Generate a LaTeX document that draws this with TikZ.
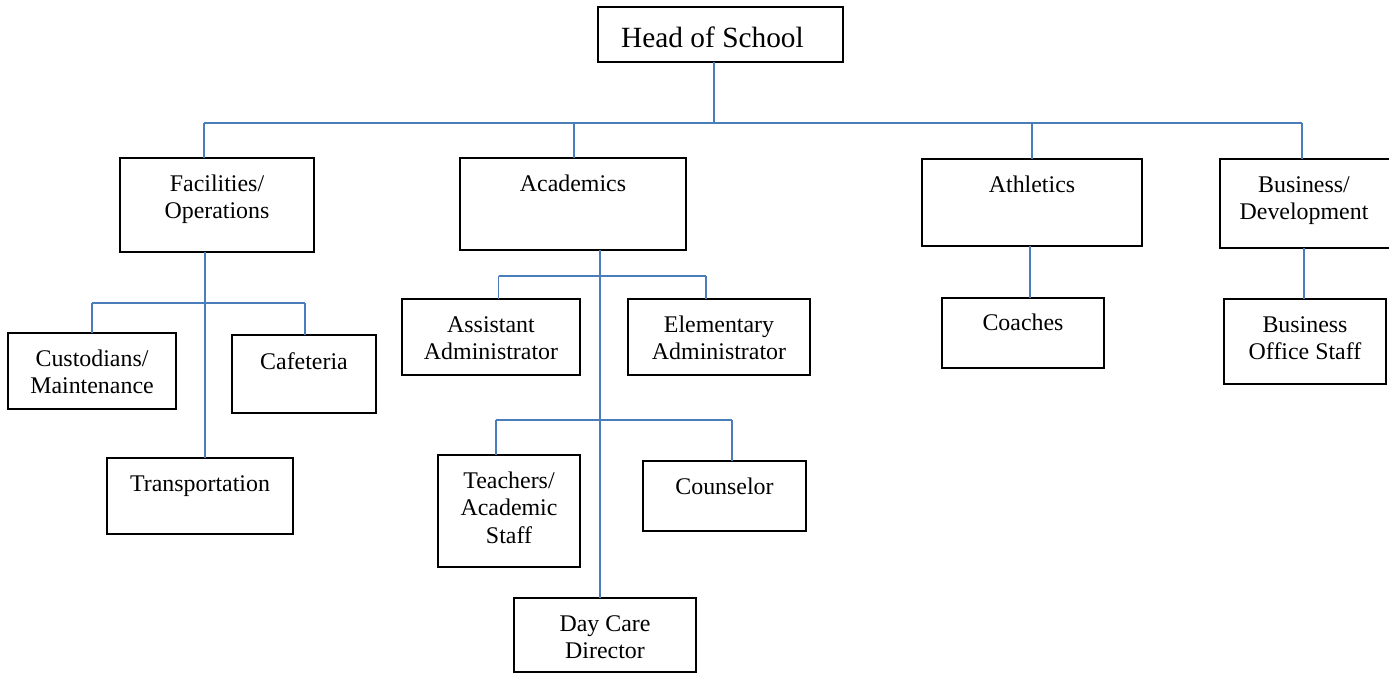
\documentclass[tikz,border=0pt]{standalone}
\usepackage{fontspec}
\setmainfont{Liberation Serif}
\usetikzlibrary{positioning}
\definecolor{linkblue}{RGB}{74,126,187}
\tikzset{
  box/.style   = {draw=black, line width=1.4pt, inner sep=0pt, outer sep=0pt, anchor=north west},
  lbl/.style   = {font=\fontsize{13.6}{15.4}\selectfont, align=center, inner sep=0pt},
  title/.style = {font=\fontsize{16.7}{19}\selectfont, inner sep=0pt},
  link/.style  = {draw=linkblue, line width=1.1pt},
}

\begin{document}
\begin{tikzpicture}[x=1cm,y=1cm]
  \useasboundingbox[fill=white] (0,0) rectangle (27.78,13.48);

  % head
  \node[box, minimum width=4.90cm, minimum height=1.10cm] (head) at (11.96,13.34) {};
  \node[title, below=0.38cm of head.north, xshift=-0.16cm] (headT) {Head of School};

  % departments
  \node[box, minimum width=3.88cm, minimum height=1.88cm] (fac) at (2.40,10.32) {};
  \node[lbl, below=0.33cm of fac.north] (facT) {Facilities/\\Operations};
  \node[box, minimum width=4.52cm, minimum height=1.84cm] (acad) at (9.20,10.32) {};
  \node[lbl, below=0.34cm of acad.north] (acadT) {Academics};
  \node[box, minimum width=4.40cm, minimum height=1.74cm] (ath) at (18.44,10.30) {};
  \node[lbl, below=0.34cm of ath.north] (athT) {Athletics};
  \node[box, minimum width=3.60cm, minimum height=1.78cm] (bus) at (24.40,10.30) {};
  \node[lbl, below=0.34cm of bus.north, xshift=-0.12cm] (busT) {Business/\\Development};

  % facilities staff
  \node[box, minimum width=3.36cm, minimum height=1.52cm] (cust) at (0.16,6.82) {};
  \node[lbl, below=0.34cm of cust.north] (custT) {Custodians/\\Maintenance};
  \node[box, minimum width=2.88cm, minimum height=1.56cm] (cafe) at (4.64,6.78) {};
  \node[lbl, below=0.34cm of cafe.north] (cafeT) {Cafeteria};
  \node[box, minimum width=3.72cm, minimum height=1.52cm] (trans) at (2.14,4.32) {};
  \node[lbl, below=0.34cm of trans.north] (transT) {Transportation};

  % academic staff
  \node[box, minimum width=3.56cm, minimum height=1.52cm] (asst) at (8.04,7.50) {};
  \node[lbl, below=0.34cm of asst.north] (asstT) {Assistant\\Administrator};
  \node[box, minimum width=3.64cm, minimum height=1.52cm] (elem) at (12.56,7.50) {};
  \node[lbl, below=0.34cm of elem.north] (elemT) {Elementary\\Administrator};
  \node[box, minimum width=2.84cm, minimum height=2.24cm] (teach) at (8.76,4.38) {};
  \node[lbl, below=0.34cm of teach.north] (teachT) {Teachers/\\Academic\\Staff};
  \node[box, minimum width=3.26cm, minimum height=1.40cm] (couns) at (12.86,4.26) {};
  \node[lbl, below=0.34cm of couns.north] (counsT) {Counselor};
  \node[box, minimum width=3.64cm, minimum height=1.48cm] (day) at (10.28,1.52) {};
  \node[lbl, below=0.34cm of day.north] (dayT) {Day Care\\Director};

  % athletics and business staff
  \node[box, minimum width=3.24cm, minimum height=1.40cm] (coach) at (18.84,7.52) {};
  \node[lbl, below=0.32cm of coach.north] (coachT) {Coaches};
  \node[box, minimum width=3.24cm, minimum height=1.70cm] (office) at (24.48,7.50) {};
  \node[lbl, below=0.34cm of office.north] (officeT) {Business\\Office Staff};

  % top level links
  \coordinate (mainL) at (4.08,11.02);
  \coordinate (mainR) at (26.04,11.02);
  \coordinate (jhead) at (14.28,11.02);
  \coordinate (jacad) at (11.48,11.02);
  \coordinate (jath)  at (20.64,11.02);
  \draw[link] (mainL) -- (mainR);
  \draw[link] (jhead) -- (jhead |- head.south);
  \draw[link] (mainL) -- (mainL |- fac.north);
  \draw[link] (jacad) -- (jacad |- acad.north);
  \draw[link] (jath) -- (jath |- ath.north);
  \draw[link] (mainR) -- (mainR |- bus.north);

  % facilities links
  \coordinate (jfac)  at (4.10,7.42);
  \coordinate (facL)  at (1.84,7.42);
  \coordinate (facR)  at (6.10,7.42);
  \draw[link] (jfac |- fac.south) -- (jfac |- trans.north);
  \draw[link] (facL) -- (facR);
  \draw[link] (facL) -- (facL |- cust.north);
  \draw[link] (facR) -- (facR |- cafe.north);

  % academics links
  \coordinate (jac)   at (12.00,7.96);
  \coordinate (acL)   at (9.97,7.96);
  \coordinate (acR)   at (14.12,7.96);
  \coordinate (ac2L)  at (9.92,5.08);
  \coordinate (ac2R)  at (14.64,5.08);
  \draw[link] (jac |- acad.south) -- (jac |- day.north);
  \draw[link] (acL) -- (acR);
  \draw[link] (acL) -- (acL |- asst.north);
  \draw[link] (acR) -- (acR |- elem.north);
  \draw[link] (ac2L) -- (ac2R);
  \draw[link] (ac2L) -- (ac2L |- teach.north);
  \draw[link] (ac2R) -- (ac2R |- couns.north);

  % athletics and business links
  \coordinate (jath2) at (20.60,0);
  \coordinate (jbus2) at (26.08,0);
  \draw[link] (jath2 |- ath.south) -- (jath2 |- coach.north);
  \draw[link] (jbus2 |- bus.south) -- (jbus2 |- office.north);
\end{tikzpicture}
\end{document}
